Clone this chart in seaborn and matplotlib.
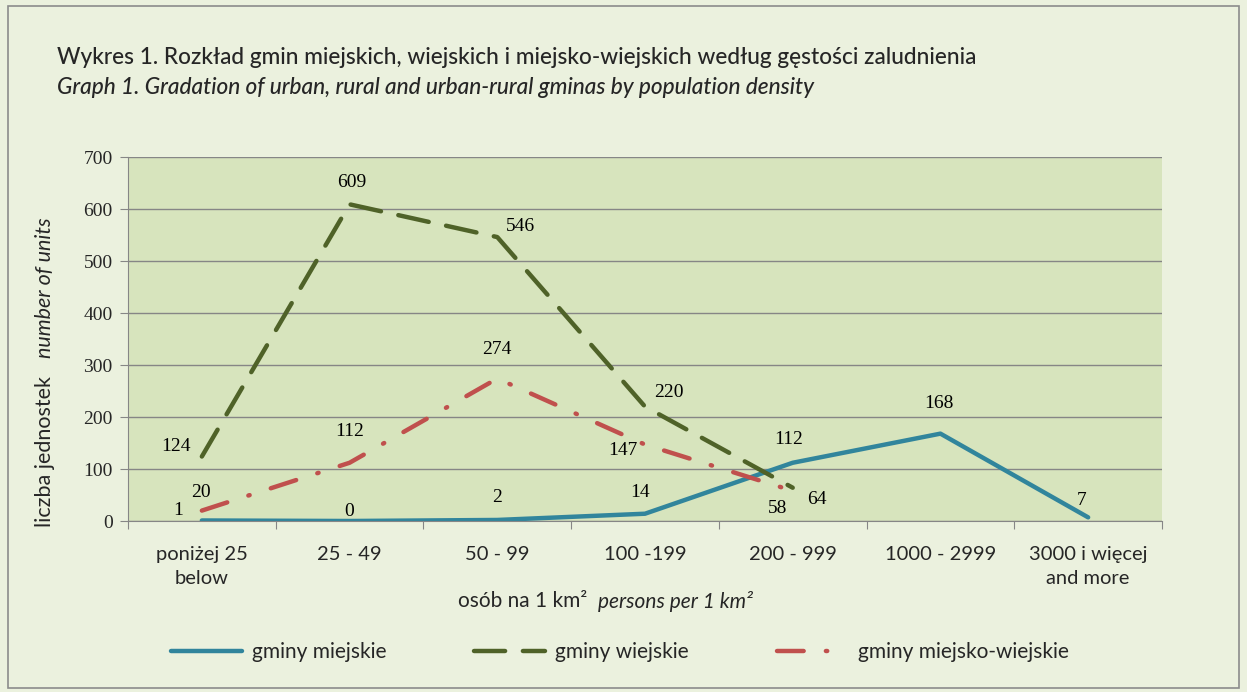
import numpy as np
import pandas as pd
import matplotlib.pyplot as plt
import seaborn as sns
from matplotlib.patches import Rectangle

categories = ['poniżej 25\nbelow', '25 - 49', '50 - 99', '100 -199', '200 - 999',
              '1000 - 2999', '3000 i więcej\nand more']
miejskie = [1, 0, 2, 14, 112, 168, 7]
wiejskie = [124, 609, 546, 220, 64, np.nan, np.nan]
miejsko_wiejskie = [20, 112, 274, 147, 58, np.nan, np.nan]

# label offsets in pixels (dx, dy)
off_m = [(-24, 10), (0, 10), (0, 22), (-5, 21), (-4, 23), (-2, 30), (-7, 17)]
off_w = [(-26, 10), (2, 22), (23, 11), (24, 14), (24, -12)]
off_mw = [(-1, 18), (0, 31), (0, 29), (-22, -6), (-15, -18)]

sns.set_style('white')
plt.rcParams['font.family'] = ['Lato', 'DejaVu Sans']

c_blue = '#31859C'
c_green = '#4F6228'
c_red = '#C0504D'
bg_out = '#EBF1DE'
bg_in = '#D7E4BD'

fig = plt.figure(figsize=(12.47, 6.92), dpi=100, facecolor=bg_out)
ax = fig.add_axes([128 / 1247, 1 - 521 / 692, (1162 - 128) / 1247, 364 / 692])
ax.set_facecolor(bg_in)

x = np.arange(len(categories))
df = pd.DataFrame({'x': x, 'm': miejskie, 'w': wiejskie, 'mw': miejsko_wiejskie})

sns.lineplot(data=df, x='x', y='m', ax=ax, color=c_blue, lw=3.2,
             label='gminy miejskie', solid_capstyle='round')
sns.lineplot(data=df, x='x', y='w', ax=ax, color=c_green, lw=3.2,
             label='gminy wiejskie', dashes=False)
sns.lineplot(data=df, x='x', y='mw', ax=ax, color=c_red, lw=3.2,
             label='gminy miejsko-wiejskie')
lines = ax.get_lines()
lines[1].set_dashes([7, 4])
lines[1].set_dash_capstyle('round')
lines[2].set_dashes([6, 5, 0.3, 5])
lines[2].set_dash_capstyle('round')

lab_kw = dict(textcoords='offset pixels', ha='center', va='center',
              fontsize=14, family=['Liberation Serif', 'DejaVu Serif'], color='black')
for i, v in enumerate(miejskie):
    ax.annotate(str(v), (x[i], v), xytext=off_m[i], **lab_kw)
for i, v in enumerate(wiejskie[:5]):
    ax.annotate(str(int(v)), (x[i], v), xytext=off_w[i], **lab_kw)
for i, v in enumerate(miejsko_wiejskie[:5]):
    ax.annotate(str(int(v)), (x[i], v), xytext=off_mw[i], **lab_kw)

ax.set_xlim(-0.5, len(categories) - 0.5)
ax.set_ylim(0, 700)
ax.set_yticks(range(0, 701, 100))
ax.yaxis.grid(True, color='#868686', lw=1)
ax.set_axisbelow(True)
ax.set_xticks(np.arange(-0.5, len(categories), 1))
ax.set_xticklabels([])
ax.set_xticks(x, minor=True)
ax.set_xticklabels(categories, minor=True, fontsize=14.5, linespacing=1.5)
ax.tick_params(axis='x', which='major', length=6, color='#868686', direction='out', bottom=True)
ax.tick_params(axis='x', which='minor', length=0, pad=18)
ax.tick_params(axis='y', length=6, color='#868686', direction='out', left=True, pad=5)
for t in ax.get_yticklabels():
    t.set_family(['Liberation Serif', 'DejaVu Serif'])
    t.set_fontsize(14)
for s in ['top', 'right']:
    ax.spines[s].set_visible(False)
for s in ['left', 'bottom']:
    ax.spines[s].set_color('#868686')
ax.set_xlabel('')
ax.set_ylabel('')

h, l = ax.get_legend_handles_labels()
ax.get_legend().remove()
fig.legend(h, l, loc='center', bbox_to_anchor=(0.497, 1 - 652 / 692), ncol=3,
           frameon=False, fontsize=15, handlelength=3.4, columnspacing=4.2, handletextpad=0.5)

fig.text(57 / 1247, 1 - 57 / 692, 'Wykres 1. Rozkład gmin miejskich, wiejskich i miejsko-wiejskich według gęstości zaludnienia',
         fontsize=16.3, va='center', ha='left', weight='medium')
fig.text(57 / 1247, 1 - 88 / 692, 'Graph 1. Gradation of urban, rural and urban-rural gminas by population density',
         fontsize=16.3, va='center', ha='left', style='italic', weight='medium')

fig.text(45 / 1247, 1 - 527 / 692, 'liczba jednostek', rotation=90, fontsize=15.5,
         ha='center', va='bottom')
fig.text(45 / 1247, 1 - 358 / 692, 'number of units', rotation=90, fontsize=15.5,
         ha='center', va='bottom', style='italic')

fig.text(587 / 1247, 1 - 601 / 692, 'osób na 1 km²', fontsize=15, ha='right', va='center')
fig.text(598 / 1247, 1 - 601 / 692, 'persons per 1 km²', fontsize=15, ha='left', va='center',
         style='italic')

fig.patches.append(Rectangle((8 / 1247, 4 / 692), 1 - 16 / 1247, 1 - 10 / 692,
                             transform=fig.transFigure, fill=False, ec='#8c8c8c', lw=1.2))

fig.savefig('out.png', dpi=100, facecolor=bg_out)
